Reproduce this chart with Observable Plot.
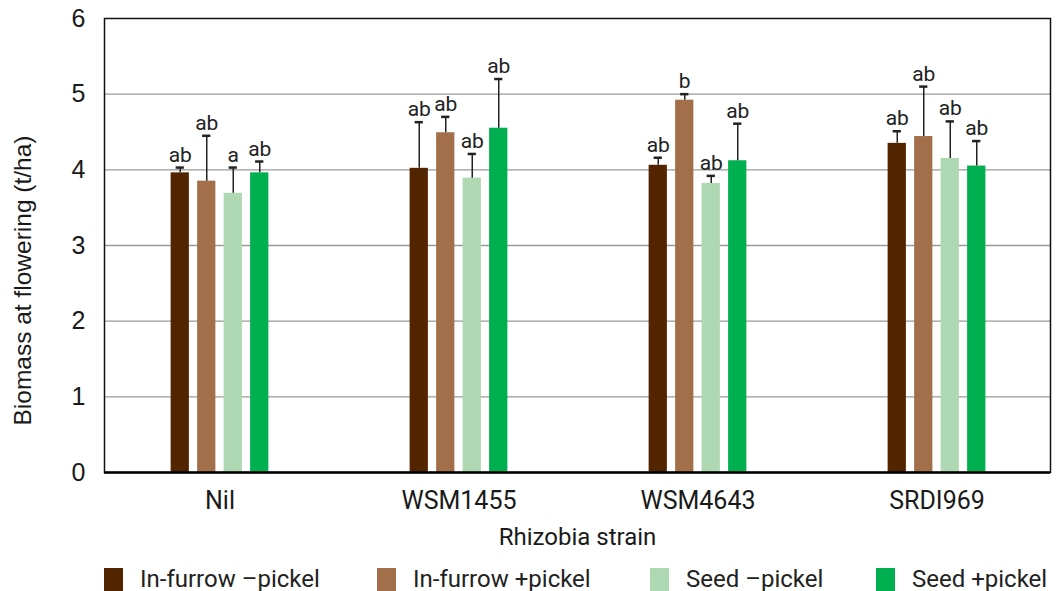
<!DOCTYPE html>
<html><head><meta charset="utf-8">
<script src="https://cdn.jsdelivr.net/npm/d3@7"></script>
<script src="https://cdn.jsdelivr.net/npm/@observablehq/plot@0.6"></script>
<style>
body{margin:0;background:#fff;}
#chart svg{display:block;}
#legend{position:relative;width:1059px;height:35px;font-family:Roboto,sans-serif;font-size:24px;color:#222;}
.item{position:absolute;top:9px;display:flex;align-items:center;white-space:nowrap;}
.sw{width:19px;height:23px;margin-right:17px;}
</style></head><body>
<div id="chart"></div><div id="legend"></div>
<script>
// Categories
const groups = ["Nil", "WSM1455", "WSM4643", "SRDI969"];
const series = ["In-furrow –pickel", "In-furrow +pickel", "Seed –pickel", "Seed +pickel"];
const colors = ["#522400", "#a26f4a", "#aed8b1", "#00b050"];
// Means (t/ha), per series across groups
const inFurrowMinus = [3.96, 4.02, 4.06, 4.35];
const inFurrowPlus  = [3.85, 4.49, 4.92, 4.44];
const seedMinus     = [3.69, 3.89, 3.82, 4.15];
const seedPlus      = [3.96, 4.55, 4.12, 4.05];
// Upper error bar lengths
const errInFurrowMinus = [0.07, 0.61, 0.10, 0.16];
const errInFurrowPlus  = [0.60, 0.21, 0.08, 0.66];
const errSeedMinus     = [0.34, 0.32, 0.10, 0.49];
const errSeedPlus      = [0.15, 0.65, 0.49, 0.33];
// Significance letters
const letInFurrowMinus = ["ab", "ab", "ab", "ab"];
const letInFurrowPlus  = ["ab", "ab", "b", "ab"];
const letSeedMinus     = ["a", "ab", "ab", "ab"];
const letSeedPlus      = ["ab", "ab", "ab", "ab"];
const yTicks = [0, 1, 2, 3, 4, 5, 6];
const gridTicks = [1, 2, 3, 4, 5];

const seriesValues = [inFurrowMinus, inFurrowPlus, seedMinus, seedPlus];
const seriesErrors = [errInFurrowMinus, errInFurrowPlus, errSeedMinus, errSeedPlus];
const seriesLetters = [letInFurrowMinus, letInFurrowPlus, letSeedMinus, letSeedPlus];

const data = groups.flatMap((g, gi) => series.map((s, si) => ({
  group: g, series: s, si,
  value: seriesValues[si][gi],
  top: seriesValues[si][gi] + seriesErrors[si][gi],
  letter: seriesLetters[si][gi]
})));

const xRange = [98, 1057];
const bandW = (xRange[1] - xRange[0]) / groups.length;
const barW = 19, step = 26.5, capW = 9;
const barInset = (bandW - barW) / 2;
const capInset = (bandW - capW) / 2;

const marks = [
  Plot.gridY(gridTicks, {stroke: "#9a9a9a", strokeOpacity: 1, strokeWidth: 1.3})
];
series.forEach((s, i) => {
  const d = data.filter(r => r.si === i);
  const off = (i - 1.5) * step;
  marks.push(
    Plot.barY(d, {x: "group", y: "value", fill: "series", dx: off, insetLeft: barInset, insetRight: barInset}),
    Plot.ruleX(d, {x: "group", y1: "value", y2: "top", dx: off, stroke: "#222", strokeWidth: 1.5}),
    Plot.tickY(d, {x: "group", y: "top", dx: off, insetLeft: capInset, insetRight: capInset, stroke: "#222", strokeWidth: 2.5}),
    Plot.text(d, {x: "group", y: "top", text: "letter", dx: off, dy: -6, lineAnchor: "bottom",
      fontSize: 21, fontFamily: "Roboto", fill: "#222"})
  );
});
marks.push(
  Plot.frame({stroke: "#111", strokeWidth: 1.5}),
  Plot.ruleY([0], {stroke: "#000", strokeWidth: 2.5}),
  Plot.axisY(yTicks, {tickSize: 0, tickPadding: 19, tickFormat: d => String(d), fontSize: 25, fontFamily: "Liberation Sans", fill: "#1a1a1a", label: null}),
  Plot.axisX({tickSize: 0, tickPadding: 19, fontSize: 25, fontFamily: "Roboto", fill: "#1a1a1a", label: null}),
  Plot.text(["Rhizobia strain"], {frameAnchor: "bottom", dy: 65, lineAnchor: "middle", fontSize: 24, fontFamily: "Roboto", fill: "#1a1a1a"}),
  Plot.text(["Biomass at flowering (t/ha)"], {frameAnchor: "left", textAnchor: "middle", dx: -81, dy: 35, rotate: -90, lineAnchor: "middle", fontSize: 24.5, fontFamily: "Liberation Sans", fill: "#1a1a1a"})
);

const chart = Plot.plot({
  width: 1059, height: 556,
  marginTop: 18, marginBottom: 84, marginLeft: 104, marginRight: 9,
  x: {domain: groups, range: xRange, padding: 0},
  y: {domain: [0, 6]},
  color: {domain: series, range: colors},
  style: {background: "#fff", overflow: "visible"},
  marks
});
document.getElementById("chart").appendChild(chart);

const legendX = [104, 377, 650, 876];
const legend = document.getElementById("legend");
series.forEach((s, i) => {
  const item = document.createElement("div");
  item.className = "item";
  item.style.left = legendX[i] + "px";
  item.innerHTML = `<div class="sw" style="background:${colors[i]}"></div><span>${s}</span>`;
  legend.appendChild(item);
});
</script>
</body></html>
